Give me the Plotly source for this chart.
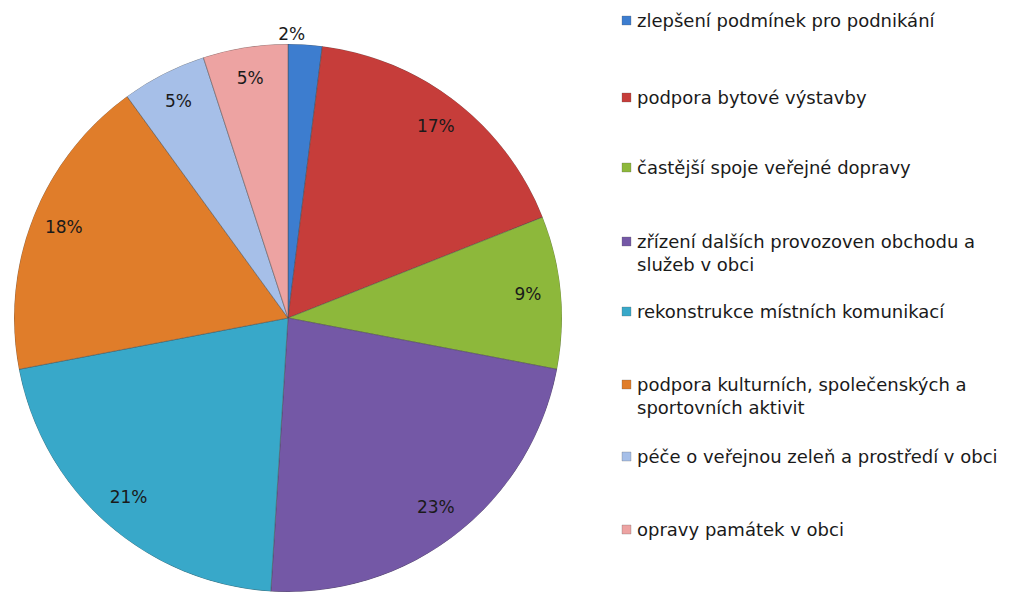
import plotly.graph_objects as go

categories = [
    "zlepšení podmínek pro podnikání",
    "podpora bytové výstavby",
    "častější spoje veřejné dopravy",
    "zřízení dalších provozoven obchodu a<br>služeb v obci",
    "rekonstrukce místních komunikací",
    "podpora kulturních, společenských a<br>sportovních aktivit",
    "péče o veřejnou zeleň a prostředí v obci",
    "opravy památek v obci",
]
values = [2, 17, 9, 23, 21, 18, 5, 5]
colors = ["#3D7DCF", "#C63D3A", "#8DB83B", "#7458A6", "#38A8C9", "#E07D2A", "#A6BFE8", "#EDA3A2"]
label_outside = [True, False, False, False, False, False, False, False]

W, H = 1026, 592
cx, cy, R = 288, 318, 274

total = sum(values)
widths = [v / total * 360 for v in values]
mids = []
acc = 0.0
for w in widths:
    mids.append(acc + w / 2)
    acc += w
pct_text = [f"{round(v / total * 100)}%" for v in values]
label_r = [1.0 if o else 0.88 for o in label_outside]
label_pos = ["top left" if o else "middle center" for o in label_outside]

fig = go.Figure()
fig.add_trace(go.Barpolar(
    r=[1] * len(values), theta=mids, width=widths,
    marker=dict(color=colors, line=dict(color="rgba(70,70,70,0.45)", width=1)),
    customdata=categories, hovertemplate="%{customdata}<extra></extra>",
    showlegend=False,
))
fig.add_trace(go.Scatterpolar(
    r=label_r, theta=mids, mode="text", text=pct_text, textposition=label_pos,
    textfont=dict(family="DejaVu Sans", size=17, color="#1a1a1a"),
    cliponaxis=False, showlegend=False, hoverinfo="skip",
))

fig.update_layout(
    polar=dict(
        domain=dict(x=[(cx - R) / W, (cx + R) / W], y=[(H - cy - R) / H, (H - cy + R) / H]),
        bargap=0,
        radialaxis=dict(range=[0, 1], visible=False, showgrid=False),
        angularaxis=dict(rotation=90, direction="clockwise", visible=False, showgrid=False),
        bgcolor="rgba(0,0,0,0)",
    ),
)

# legend drawn as text with coloured squares
leg_y = [20, 97, 167, 241, 311, 384, 456, 529]
for lab, col, yy in zip(categories, colors, leg_y):
    fig.add_shape(type="rect", xref="paper", yref="paper",
                  x0=622 / W, x1=631 / W, y0=1 - (yy + 5) / H, y1=1 - (yy - 4) / H,
                  fillcolor=col, line=dict(color="rgba(80,80,80,0.5)", width=0.5))
    fig.add_annotation(text=lab, xref="paper", yref="paper",
                       x=635 / W, y=1 - (yy - 12.5) / H, xanchor="left", yanchor="top",
                       align="left", showarrow=False,
                       font=dict(family="DejaVu Sans", size=18, color="#1a1a1a"))

fig.update_layout(
    width=W, height=H,
    margin=dict(l=0, r=0, t=0, b=0),
    paper_bgcolor="white",
    plot_bgcolor="white",
)
fig.write_html("out.html", config={"displayModeBar": False},
               post_script="document.body.style.margin='0';document.body.style.overflow='hidden';")
